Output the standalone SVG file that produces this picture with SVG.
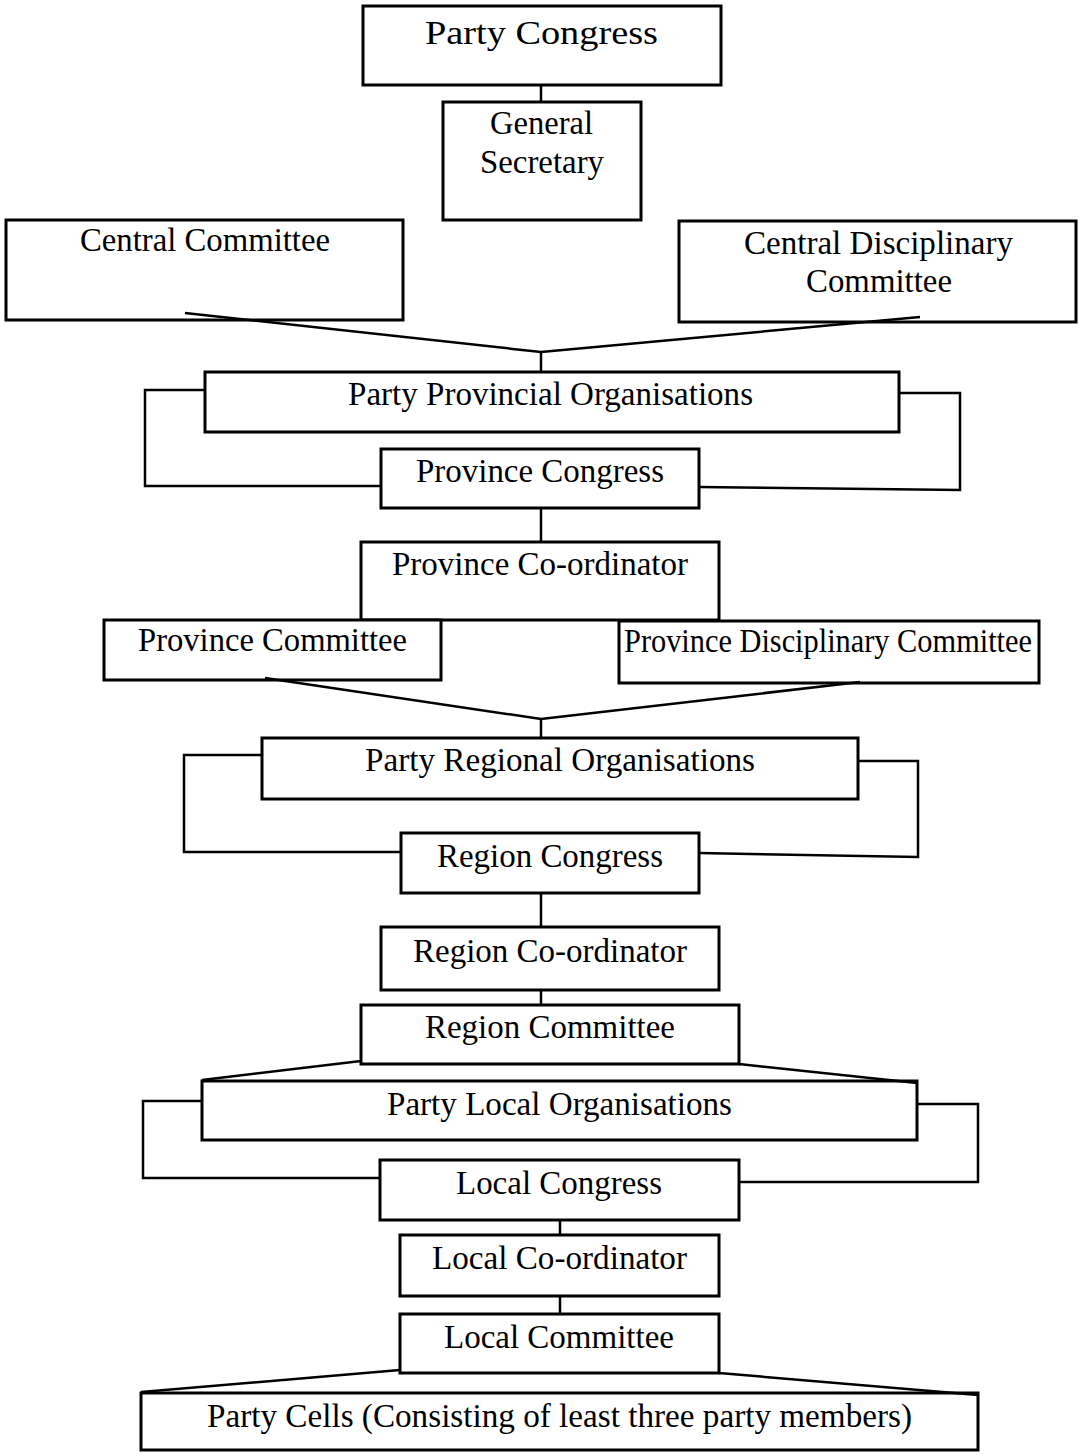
<svg xmlns="http://www.w3.org/2000/svg" width="1079" height="1455" viewBox="0 0 1079 1455">
<style>
.box{fill:#fff;stroke:#000;stroke-width:3}
.ln{fill:none;stroke:#000;stroke-width:2.5;stroke-linejoin:miter}
text{font-family:"Liberation Serif","Times New Roman",serif;font-size:33px;fill:#000;text-anchor:middle}
</style>
<rect width="1079" height="1455" fill="#fff"/>
<g id="party-congress"><rect class="box" x="363" y="6" width="358" height="79"/><text x="541.5" y="44" font-size="38" textLength="233" lengthAdjust="spacingAndGlyphs">Party Congress</text></g>
<g id="general-secretary"><rect class="box" x="443" y="102" width="198" height="118"/><text x="541.5" y="134" textLength="103" lengthAdjust="spacingAndGlyphs">General</text><text x="542" y="173" textLength="124" lengthAdjust="spacingAndGlyphs">Secretary</text></g>
<g id="central-committee"><rect class="box" x="6" y="220" width="397" height="100"/><text x="205" y="251" textLength="250" lengthAdjust="spacingAndGlyphs">Central Committee</text></g>
<g id="central-disciplinary-committee"><rect class="box" x="679" y="221" width="397" height="101"/><text x="878.5" y="254" textLength="269" lengthAdjust="spacingAndGlyphs">Central Disciplinary</text><text x="879" y="292" textLength="146" lengthAdjust="spacingAndGlyphs">Committee</text></g>
<g id="party-provincial-organisations"><rect class="box" x="205" y="372" width="694" height="60"/><text x="550.5" y="405" textLength="405" lengthAdjust="spacingAndGlyphs">Party Provincial Organisations</text></g>
<g id="province-congress"><rect class="box" x="381" y="449" width="318" height="59"/><text x="540" y="482" textLength="248" lengthAdjust="spacingAndGlyphs">Province Congress</text></g>
<g id="province-coordinator"><rect class="box" x="361" y="542" width="358" height="78"/><text x="540" y="575" textLength="296" lengthAdjust="spacingAndGlyphs">Province Co-ordinator</text></g>
<g id="province-committee"><rect class="box" x="104" y="620" width="337" height="60"/><text x="272.5" y="651" textLength="269" lengthAdjust="spacingAndGlyphs">Province Committee</text></g>
<g id="province-disciplinary-committee"><rect class="box" x="619" y="621" width="420" height="62"/><text x="828" y="652" textLength="408" lengthAdjust="spacingAndGlyphs">Province Disciplinary Committee</text></g>
<g id="party-regional-organisations"><rect class="box" x="262" y="738" width="596" height="61"/><text x="560" y="771" textLength="390" lengthAdjust="spacingAndGlyphs">Party Regional Organisations</text></g>
<g id="region-congress"><rect class="box" x="401" y="833" width="298" height="60"/><text x="550" y="867" textLength="226" lengthAdjust="spacingAndGlyphs">Region Congress</text></g>
<g id="region-coordinator"><rect class="box" x="381" y="927" width="338" height="63"/><text x="550" y="962" textLength="274" lengthAdjust="spacingAndGlyphs">Region Co-ordinator</text></g>
<g id="region-committee"><rect class="box" x="361" y="1005" width="378" height="59"/><text x="550" y="1038" textLength="250" lengthAdjust="spacingAndGlyphs">Region Committee</text></g>
<g id="party-local-organisations"><rect class="box" x="202" y="1081" width="715" height="59"/><text x="559.5" y="1115" textLength="345" lengthAdjust="spacingAndGlyphs">Party Local Organisations</text></g>
<g id="local-congress"><rect class="box" x="380" y="1160" width="359" height="60"/><text x="559" y="1194" textLength="206" lengthAdjust="spacingAndGlyphs">Local Congress</text></g>
<g id="local-coordinator"><rect class="box" x="400" y="1235" width="319" height="61"/><text x="559.5" y="1269" textLength="255" lengthAdjust="spacingAndGlyphs">Local Co-ordinator</text></g>
<g id="local-committee"><rect class="box" x="400" y="1314" width="319" height="59"/><text x="559" y="1348" textLength="230" lengthAdjust="spacingAndGlyphs">Local Committee</text></g>
<g id="party-cells"><rect class="box" x="141" y="1393" width="837" height="57"/><text x="559.5" y="1427" textLength="705" lengthAdjust="spacingAndGlyphs">Party Cells (Consisting of least three party members)</text></g>
<g id="connectors">
<line class="ln" x1="541" y1="85" x2="541" y2="102"/>
<polyline class="ln" points="185,313 541,352 920,317"/>
<line class="ln" x1="541" y1="352" x2="541" y2="372"/>
<polyline class="ln" points="205,390 145,390 145,486 381,486"/>
<polyline class="ln" points="899,393 960,393 960,490 699,487"/>
<line class="ln" x1="541" y1="508" x2="541" y2="542"/>
<polyline class="ln" points="265,678 541,719 860,682"/>
<line class="ln" x1="541" y1="719" x2="541" y2="738"/>
<polyline class="ln" points="262,755 184,755 184,852 401,852"/>
<polyline class="ln" points="858,761 918,761 918,857 699,853"/>
<line class="ln" x1="541" y1="893" x2="541" y2="927"/>
<line class="ln" x1="541" y1="990" x2="541" y2="1005"/>
<line class="ln" x1="361" y1="1061" x2="202" y2="1080"/>
<line class="ln" x1="739" y1="1064" x2="917" y2="1083"/>
<polyline class="ln" points="202,1101 143,1101 143,1178 380,1178"/>
<polyline class="ln" points="917,1104 978,1104 978,1182 739,1182"/>
<line class="ln" x1="560" y1="1220" x2="560" y2="1235"/>
<line class="ln" x1="560" y1="1296" x2="560" y2="1314"/>
<line class="ln" x1="400" y1="1370" x2="141" y2="1392"/>
<line class="ln" x1="719" y1="1373" x2="978" y2="1395"/>
</g>
</svg>
